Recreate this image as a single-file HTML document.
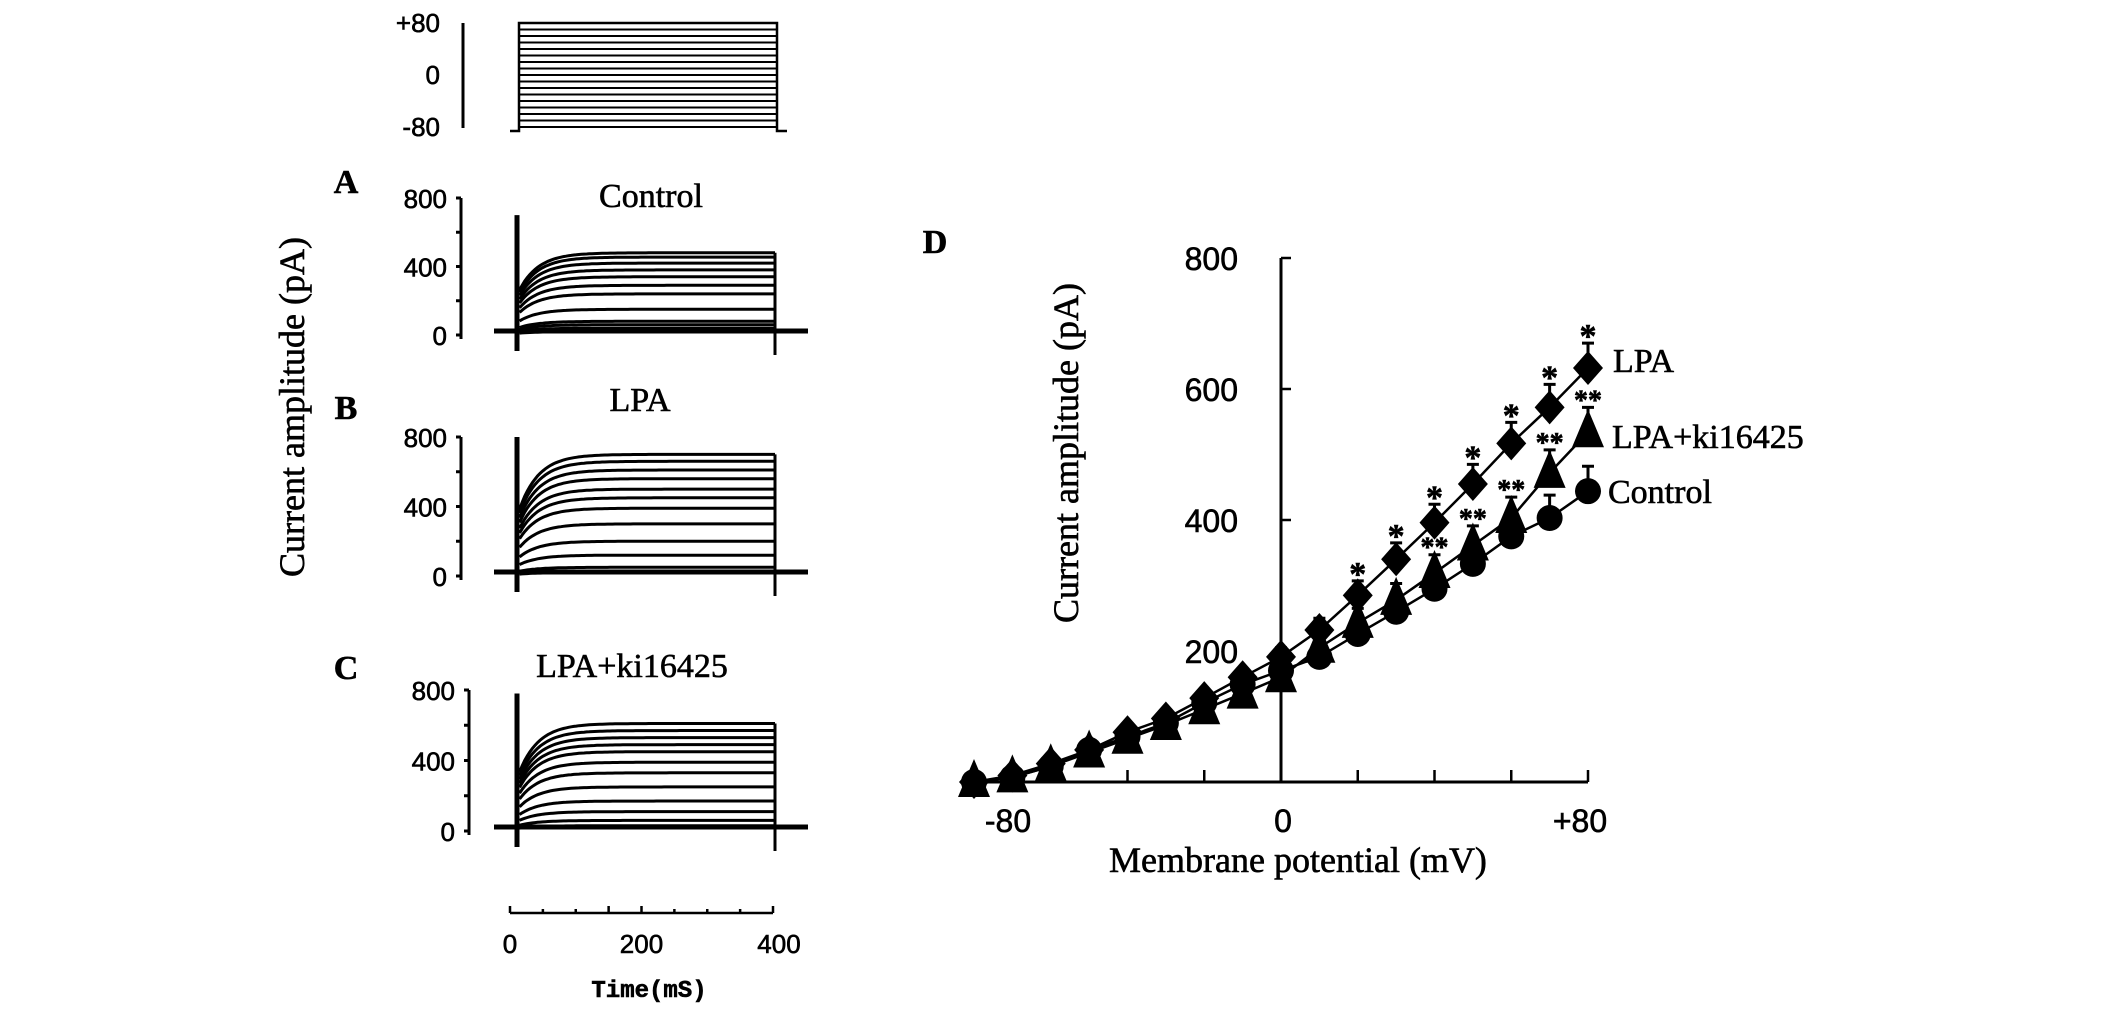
<!DOCTYPE html>
<html><head><meta charset="utf-8"><style>
html,body{margin:0;padding:0;background:#fff;}
svg{display:block;}
.serif{font-family:"Liberation Serif",serif;}
.sans{font-family:"Liberation Sans Narrow","Liberation Sans",sans-serif;}
text{stroke:#000;stroke-width:0.6;}
</style></head><body>
<svg id="fig" width="2126" height="1016" viewBox="0 0 2126 1016" xmlns="http://www.w3.org/2000/svg">
<g id="protocol"></g>
<g id="panelA"></g>
<g id="panelB"></g>
<g id="panelC"></g>
<g id="panelD"></g>
<text class="serif" font-size="36" transform="translate(304,407) rotate(-90)" text-anchor="middle">Current amplitude (pA)</text>
</svg>
<script>
// ---- Panel D data ----
const voltages = [-80,-70,-60,-50,-40,-30,-20,-10,0,10,20,30,40,50,60,70,80];
const lpaValues = [0,10,28,49,76,97,128,160,191,232,285,340,396,455,517,572,632];
const lpaKiValues = [0,7,24,45,66,87,111,135,160,205,243,278,319,361,403,472,534];
const controlValues = [0,7,24,49,69,90,121,149,170,191,226,260,295,333,375,403,444];
const lpaErr = [5,5,6,6,8,8,10,12,14,18,22,25,28,30,32,35,38];
const lpaKiErr = [5,5,6,6,8,8,10,12,14,18,22,25,28,30,32,35,38];
const controlErr = [5,5,6,6,8,8,10,12,14,18,22,25,28,30,32,35,38];
const lpaStars = [20,30,40,50,60,70,80];
const lpaKiStars = [40,50,60,70,80];
const xTicksD = [-80,0,80];
const xTickLabelsD = ["-80","0","+80"];
const yTicksD = [200,400,600,800];
// ---- Trace panels data (steady-state levels, pA) ----
const controlLevels = [480,455,420,380,340,290,240,150,80,60,40,20];
const lpaLevels = [700,660,610,560,500,450,390,300,200,120,50,20];
const lpaKiLevels = [610,570,530,490,450,390,330,250,170,110,60,30];
const protocolSteps = [-80,-70,-60,-50,-40,-30,-20,-10,0,10,20,30,40,50,60,70,80];
const traceYTicks = [0,400,800];
const timeTicks = [0,200,400];

const NS="http://www.w3.org/2000/svg";
function mk(parent,tag,attrs,text){const e=document.createElementNS(NS,tag);for(const k in attrs)e.setAttribute(k,attrs[k]);if(text!==undefined)e.textContent=text;parent.appendChild(e);return e;}

// ---- Panel D ----
const D=document.getElementById('panelD');
const xD=v=>1281+(v/80)*307;
const yD=v=>782-(v/200)*131;
let e;
e=mk(D,'text',{x:935,y:253,'font-size':34,'font-weight':'bold',class:'serif','text-anchor':'middle'},'D');

e=mk(D,'line',{x1:xD(0),y1:yD(800),x2:xD(0),y2:yD(0),stroke:'#000','stroke-width':3});

e=mk(D,'line',{x1:xD(-80),y1:yD(0),x2:xD(80),y2:yD(0),stroke:'#000','stroke-width':3});

for(let v=-80;v<=80;v+=20){e=mk(D,'line',{x1:xD(v),y1:yD(0),x2:xD(v),y2:yD(0)-12,stroke:'#000','stroke-width':2.5});
}
yTicksD.forEach(v=>{e=mk(D,'line',{x1:xD(0),y1:yD(v),x2:xD(0)+10,y2:yD(v),stroke:'#000','stroke-width':2.5});

e=mk(D,'text',{x:1238,y:yD(v)+12,'font-size':32,class:'sans','text-anchor':'end'},String(v));
});
const xLabOff=[34,2,-8];
xTicksD.forEach((v,i)=>{e=mk(D,'text',{x:xD(v)+xLabOff[i],y:832,'font-size':32,class:'sans','text-anchor':'middle'},xTickLabelsD[i]);
});
e=mk(D,'text',{x:1298,y:872,'font-size':36,class:'serif','text-anchor':'middle'},'Membrane potential (mV)');

e=mk(D,'text',{x:0,y:0,'font-size':36,class:'serif','text-anchor':'middle',transform:'translate(1078,453) rotate(-90)'},'Current amplitude (pA)');


function series(vals,errs,shape,name){
  const g=mk(D,'g',{});
  
  const pts=vals.map((v,i)=>xD(voltages[i])+','+yD(v)).join(' ');
  e=mk(g,'polyline',{points:pts,fill:'none',stroke:'#000','stroke-width':2.5});
  
  vals.forEach((v,i)=>{
    const x=xD(voltages[i]),y=yD(v),ye=yD(v+errs[i]);
    e=mk(g,'path',{d:`M${x},${y}V${ye}M${x-6},${ye}H${x+6}`,stroke:'#000','stroke-width':3,fill:'none'});
    
    const s=17;
    if(shape==='diamond') e=mk(g,'polygon',{points:`${x},${y-s} ${x+s-2},${y} ${x},${y+s} ${x-s+2},${y}`});
    else if(shape==='triangle') e=mk(g,'polygon',{points:`${x},${y-s-6} ${x+s-1},${y+s-2} ${x-s+1},${y+s-2}`});
    else e=mk(g,'circle',{cx:x,cy:y,r:13});
    e.setAttribute('fill','#000');
    
  });
}
series(controlValues,controlErr,'circle','control');
series(lpaKiValues,lpaKiErr,'triangle','lpa-ki16425');
series(lpaValues,lpaErr,'diamond','lpa');
lpaStars.forEach(v=>{const i=voltages.indexOf(v);
e=mk(D,'text',{x:xD(v),y:yD(lpaValues[i]+lpaErr[i])+4,'font-size':34,'font-weight':'bold',class:'serif','text-anchor':'middle'},'*');
});
lpaKiStars.forEach(v=>{const i=voltages.indexOf(v);
e=mk(D,'text',{x:xD(v),y:yD(lpaKiValues[i]+lpaKiErr[i])+2,'font-size':28,'font-weight':'bold',class:'serif','text-anchor':'middle'},'**');
});
e=mk(D,'text',{x:1613,y:372,'font-size':34,class:'serif'},'LPA');

e=mk(D,'text',{x:1612,y:448,'font-size':34,class:'serif'},'LPA+ki16425');

e=mk(D,'text',{x:1608,y:503,'font-size':34,class:'serif'},'Control');


// ---- Voltage protocol ----
const P=document.getElementById('protocol');
const yP=v=>75-(v/80)*52;
e=mk(P,'line',{x1:463,y1:23,x2:463,y2:128,stroke:'#000','stroke-width':3});

[["+80",80],["0",0],["-80",-80]].forEach(([t,v])=>{e=mk(P,'text',{x:440,y:yP(v)+9,'font-size':26,class:'sans','text-anchor':'end'},t);
});
e=mk(P,'path',{d:'M510,131H519V23H777V131H787',fill:'none',stroke:'#000','stroke-width':2.5});

protocolSteps.forEach(v=>{e=mk(P,'line',{x1:519,x2:777,y1:yP(v),y2:yP(v),stroke:'#000','stroke-width':2});
});

// ---- Trace panels ----
function tracePanel(id,letter,title,levels,axisX,y0,y800,labelY,titleY,titleX,spikeTop){
  const G=document.getElementById(id);
  const yT=v=>y0-(v/800)*(y0-y800);
  const t0=517,t1=775;
  const xT=t=>t0+(t/400)*(t1-t0);
  e=mk(G,'text',{x:346,y:labelY,'font-size':34,'font-weight':'bold',class:'serif','text-anchor':'middle'},letter);
  
  e=mk(G,'text',{x:titleX,y:titleY,'font-size':34,class:'serif','text-anchor':'middle'},title);
  
  e=mk(G,'line',{x1:axisX,y1:y800,x2:axisX,y2:y0+4,stroke:'#000','stroke-width':3});
  
  for(let v=0;v<=800;v+=200){e=mk(G,'line',{x1:axisX-5,x2:axisX,y1:yT(v),y2:yT(v),stroke:'#000','stroke-width':3});
  }
  traceYTicks.forEach(v=>{e=mk(G,'text',{x:axisX-14,y:yT(v)+10,'font-size':26,class:'sans','text-anchor':'end'},String(v));
  });
  const yb=yT(0)-4;
  e=mk(G,'line',{x1:494,x2:808,y1:yb,y2:yb,stroke:'#000','stroke-width':5});
  
  e=mk(G,'line',{x1:t0,x2:t0,y1:yT(spikeTop),y2:yb+20,stroke:'#000','stroke-width':5});
  
  e=mk(G,'line',{x1:t1,x2:t1,y1:yT(levels[0]),y2:yb+24,stroke:'#000','stroke-width':3});
  
  levels.forEach(L=>{
    let d='';
    for(let t=4;t<=400;t+=4){const init=L*0.55;const v=L-(L-init)*Math.exp(-(t-4)/30);
      d+=(d?'L':'M')+xT(t).toFixed(1)+','+yT(v).toFixed(1);}
    e=mk(G,'path',{d:d,fill:'none',stroke:'#000','stroke-width':3});
    
  });
}
tracePanel('panelA','A','Control',controlLevels,461,335,198,193,207,651,700);
tracePanel('panelB','B','LPA',lpaLevels,461,576,437,419,411,640,800);
tracePanel('panelC','C','LPA+ki16425',lpaKiLevels,469,831,690,679,677,632,780);

// time axis
const C=document.getElementById('panelC');
const xTa=t=>510+(t/400)*(773-510);
e=mk(C,'line',{x1:510,x2:773,y1:913,y2:913,stroke:'#000','stroke-width':2.5});

for(let t=0;t<=400;t+=50){e=mk(C,'line',{x1:xTa(t),x2:xTa(t),y1:913,y2:(t%200==0||t==150)?906:909,stroke:'#000','stroke-width':2.5});
}
timeTicks.forEach(t=>{e=mk(C,'text',{x:xTa(t)+(t==400?6:0),y:953,'font-size':26,class:'sans','text-anchor':'middle'},String(t));
});
e=mk(C,'text',{x:649,y:997,'font-size':24,'font-weight':'bold',class:'sans','text-anchor':'middle',style:'font-family:"Liberation Mono",monospace'},'Time(mS)');

</script>
</body></html>
